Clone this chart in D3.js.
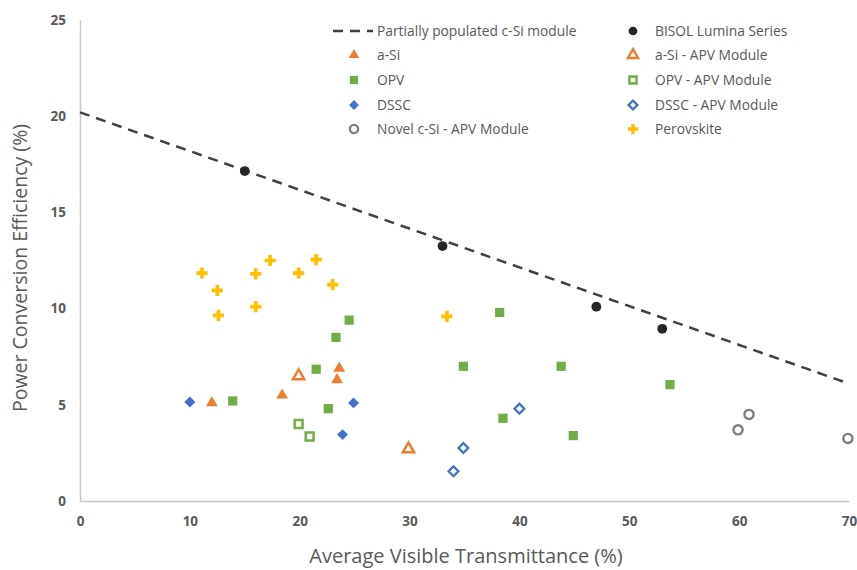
<!DOCTYPE html>
<html>
<head>
<meta charset="utf-8">
<script src="https://cdn.jsdelivr.net/npm/d3@7"></script>
<style>
  body { margin: 0; background: #fff; }
  text { font-family: "Open Sans", "Noto Sans", sans-serif; fill: #595959; }
</style>
</head>
<body>
<svg id="chart" width="857" height="570"></svg>
<script>
// reference line + series
var lineX = [0, 70];
var lineY = [20.2, 6.1];

var bisolX = [15, 33, 47, 53];
var bisolY = [17.15, 13.25, 10.1, 8.95];

var aSiX = [12, 18.4, 23.6, 23.4];
var aSiY = [5.1, 5.5, 6.9, 6.3];

var aSiApvX = [19.9, 29.9];
var aSiApvY = [6.5, 2.7];

var opvX = [24.5, 23.3, 21.5, 13.9, 22.6, 38.2, 34.9, 43.8, 53.7, 38.5, 44.9];
var opvY = [9.4, 8.5, 6.85, 5.2, 4.8, 9.8, 7.0, 7.0, 6.05, 4.3, 3.4];

var opvApvX = [19.9, 20.9];
var opvApvY = [4.0, 3.35];

var dsscX = [10, 24.9, 23.9];
var dsscY = [5.15, 5.1, 3.45];

var dsscApvX = [40, 34.9, 34];
var dsscApvY = [4.8, 2.75, 1.55];

var novelX = [60.9, 59.9, 69.9];
var novelY = [4.5, 3.7, 3.25];

var perovX = [11.1, 12.5, 12.6, 16, 16, 17.3, 19.9, 21.5, 23, 33.4];
var perovY = [11.85, 10.95, 9.65, 11.8, 10.1, 12.5, 11.85, 12.55, 11.25, 9.6];

var xTicks = [0, 10, 20, 30, 40, 50, 60, 70];
var yTicks = [0, 5, 10, 15, 20, 25];

var svg = d3.select('#chart');
var mLeft = 80, mRight = 849, mTop = 20, mBottom = 501;

var x = d3.scaleLinear().domain([0, 70]).range([mLeft, mRight]);
var y = d3.scaleLinear().domain([0, 25]).range([mBottom, mTop]);

// axes - light lines, no ticks
var xAxis = svg.append('g')
	.attr('transform', 'translate(0,' + mBottom + ')')
	.call(d3.axisBottom(x).tickValues(xTicks).tickSize(0).tickPadding(15));
var yAxis = svg.append('g')
	.attr('transform', 'translate(' + mLeft + ',0)')
	.call(d3.axisLeft(y).tickValues(yTicks).tickSize(0).tickPadding(14));

[xAxis, yAxis].forEach(function(ax){
	ax.select('.domain').attr('stroke', '#c8c8c8').attr('stroke-width', 1.5);
	ax.selectAll('text')
		.attr('font-size', 13.5)
		.attr('font-weight', 'bold')
		.attr('font-family', '"Open Sans", sans-serif')
		.attr('fill', '#595959');
});

svg.append('text')
	.attr('x', 466)
	.attr('y', 563)
	.attr('text-anchor', 'middle')
	.attr('font-size', 20)
	.text('Average Visible Transmittance (%)');

svg.append('text')
	.attr('transform', 'translate(27,268) rotate(-90)')
	.attr('text-anchor', 'middle')
	.attr('font-size', 19.5)
	.text('Power Conversion Efficiency (%)');

// dashed c-Si line
var line = d3.line()
	.x(function(d){ return x(d[0]); })
	.y(function(d){ return y(d[1]); });

svg.append('path')
	.attr('d', line(d3.zip(lineX, lineY)))
	.attr('fill', 'none')
	.attr('stroke', '#404040')
	.attr('stroke-width', 2.5)
	.attr('stroke-dasharray', '10,7');

/**
	marker styles per series
**/
var series = [
	{xs: perovX, ys: perovY, type: d3.symbolCross, size: 70, fill: '#ffc000', stroke: 'none', sw: 0},
	{xs: opvX, ys: opvY, type: d3.symbolSquare, size: 85, fill: '#70ad47', stroke: 'none', sw: 0},
	{xs: aSiX, ys: aSiY, type: d3.symbolTriangle, size: 60, fill: '#ed7d31', stroke: 'none', sw: 0},
	{xs: dsscX, ys: dsscY, type: d3.symbolSquare, size: 60, fill: '#4472c4', stroke: 'none', sw: 0, rot: 45},
	{xs: aSiApvX, ys: aSiApvY, type: d3.symbolTriangle, size: 55, fill: '#fff', stroke: '#ed7d31', sw: 2.5},
	{xs: opvApvX, ys: opvApvY, type: d3.symbolSquare, size: 62, fill: '#fff', stroke: '#70ad47', sw: 2.5},
	{xs: dsscApvX, ys: dsscApvY, type: d3.symbolSquare, size: 48, fill: '#fff', stroke: '#4472c4', sw: 2.3, rot: 45},
	{xs: novelX, ys: novelY, type: d3.symbolCircle, size: 66, fill: '#fff', stroke: '#7f7f7f', sw: 2.4},
	{xs: bisolX, ys: bisolY, type: d3.symbolCircle, size: 75, fill: '#262626', stroke: 'none', sw: 0}
];

series.forEach(function(s){
	var sym = d3.symbol().type(s.type).size(s.size);
	svg.append('g').selectAll('path')
		.data(d3.zip(s.xs, s.ys))
		.enter()
		.append('path')
		.attr('d', sym)
		.attr('fill', s.fill)
		.attr('stroke', s.stroke)
		.attr('stroke-width', s.sw)
		.attr('transform', function(d){
			return 'translate(' + x(d[0]) + ',' + y(d[1]) + ')' + (s.rot ? ' rotate(' + s.rot + ')' : '');
		});
});

// legend
var legendRows = [31, 55, 80, 105, 129];
var legend = [
	{label: 'Partially populated c-Si module', col: 0, row: 0, dash: true},
	{label: 'BISOL Lumina Series', col: 1, row: 0, s: series[8]},
	{label: 'a-Si', col: 0, row: 1, s: series[2]},
	{label: 'a-Si - APV Module', col: 1, row: 1, s: series[4]},
	{label: 'OPV', col: 0, row: 2, s: series[1]},
	{label: 'OPV - APV Module', col: 1, row: 2, s: series[5]},
	{label: 'DSSC', col: 0, row: 3, s: series[3]},
	{label: 'DSSC - APV Module', col: 1, row: 3, s: series[6]},
	{label: 'Novel c-Si - APV Module', col: 0, row: 4, s: series[7]},
	{label: 'Perovskite', col: 1, row: 4, s: series[0]}
];
var markX = [354, 633], textX = [377, 655];

legend.forEach(function(l){
	var ly = legendRows[l.row];
	if (l.dash) {
		svg.append('line')
			.attr('x1', 333).attr('x2', 373)
			.attr('y1', ly).attr('y2', ly)
			.attr('stroke', '#404040')
			.attr('stroke-width', 2.5)
			.attr('stroke-dasharray', '10,7');
	} else {
		var s = l.s;
		svg.append('path')
			.attr('d', d3.symbol().type(s.type).size(s.size * 0.8))
			.attr('fill', s.fill)
			.attr('stroke', s.stroke)
			.attr('stroke-width', s.sw)
			.attr('transform', 'translate(' + markX[l.col] + ',' + ly + ')' + (s.rot ? ' rotate(' + s.rot + ')' : ''));
	}
	svg.append('text')
		.attr('x', l.dash ? 377 : textX[l.col])
		.attr('y', ly)
		.attr('dy', '0.35em')
		.attr('font-size', 13.8)
		.text(l.label);
});
</script>
</body>
</html>
